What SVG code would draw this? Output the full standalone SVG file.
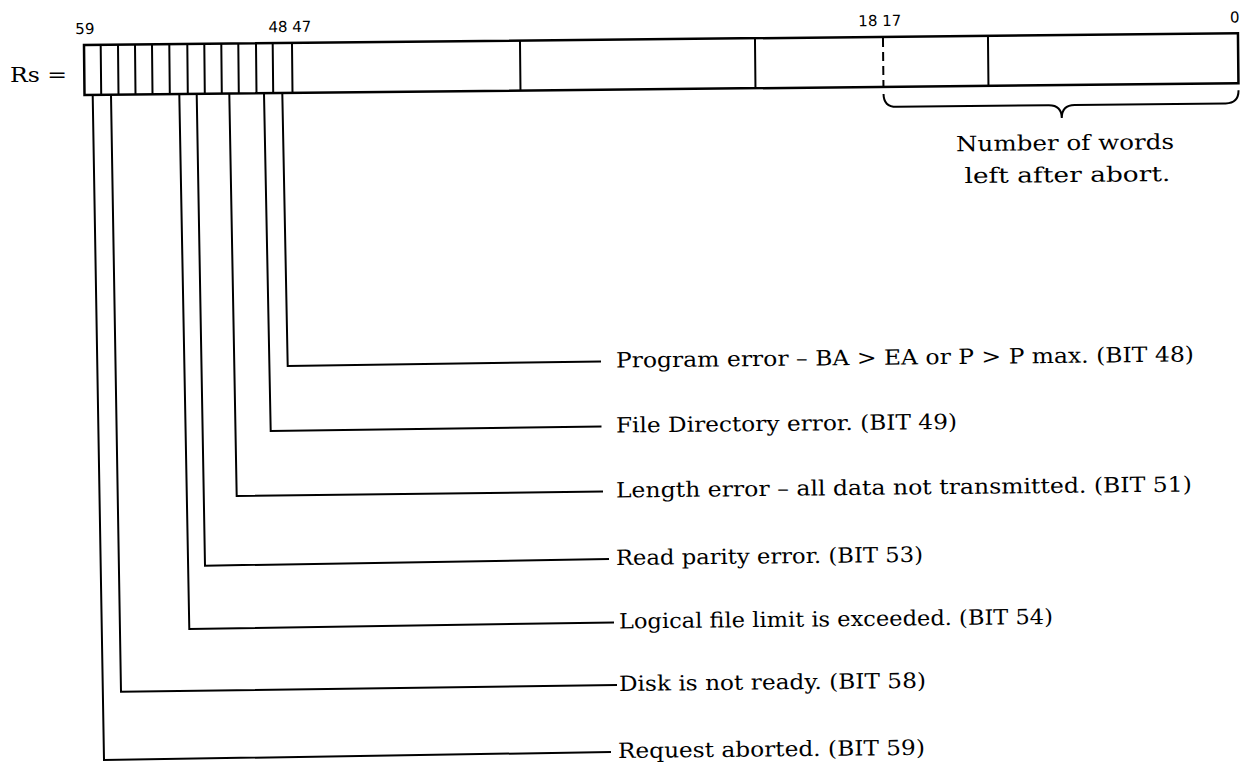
<svg xmlns="http://www.w3.org/2000/svg" width="1241" height="765" viewBox="0 0 1241 765">
<style>
.ln{fill:none;stroke:#000;stroke-width:2;stroke-linejoin:miter}
.box{fill:none;stroke:#000;stroke-width:2.5}
.dash{fill:none;stroke:#000;stroke-width:2;stroke-dasharray:9 5}
.num{font-family:"DejaVu Sans",sans-serif;font-size:15px;fill:#000;text-anchor:middle}
.lbl{font-family:"DejaVu Serif","Liberation Serif",serif;font-size:21px;fill:#000}
.mid{text-anchor:middle}
</style>
<rect width="1241" height="765" fill="#fff"/>
<g id="register" transform="rotate(-0.58 84 45)">
  <rect class="box" x="84" y="45" width="1154" height="50"/>
  <path class="ln" d="M100.7,45V95M118,45V95M135,45V95M152,45V95M169.3,45V95M187.3,45V95M204.3,45V95M221.3,45V95M238.3,45V95M256,45V95M272.7,45V95M292,45V95M520,45V95M755,45V95M988,45V95"/>
  <path class="dash" d="M883,46V95"/>
  <text class="num" x="85" y="34">59</text>
  <text class="num" x="290" y="34">48 47</text>
  <text class="num" x="880" y="34">18 17</text>
  <text class="num" x="1235" y="34">0</text>
</g>
<g id="rs-label">
  <text class="lbl" x="10" y="82" font-size="24" textLength="57" lengthAdjust="spacingAndGlyphs">Rs =</text>
</g>
<g id="word-count" transform="rotate(-0.58 84 45)">
  <path class="ln" d="M883,102Q883,115 896,115L1048,115Q1061,115 1061,128Q1061,115 1074,115L1225,115Q1238,115 1238,102"/>
  <text class="lbl mid" x="1064" y="160" textLength="218" lengthAdjust="spacingAndGlyphs">Number of words</text>
  <text class="lbl mid" x="1066" y="192" textLength="206" lengthAdjust="spacingAndGlyphs">left after abort.</text>
</g>
<g id="connectors">
  <polyline class="ln" points="282.3,93 287.7,366 601,361.5"/>
  <polyline class="ln" points="264,93.2 270.7,431 601.5,426.5"/>
  <polyline class="ln" points="229.3,93.5 236.7,496 603,491.5"/>
  <polyline class="ln" points="196.7,93.9 205,565.7 609,559"/>
  <polyline class="ln" points="179.3,94 189.3,629 614,622.5"/>
  <polyline class="ln" points="111,94.7 121,691.7 617,685"/>
  <polyline class="ln" points="92.7,94.9 104,760 611,752"/>
</g>
<g id="bit48"><text class="lbl" x="616" y="367.5" transform="rotate(-0.6 616 367.5)" textLength="578" lengthAdjust="spacingAndGlyphs">Program error – BA &gt; EA or P &gt; P max. (BIT 48)</text></g>
<g id="bit49"><text class="lbl" x="616" y="432.5" transform="rotate(-0.6 616 432.5)" textLength="341" lengthAdjust="spacingAndGlyphs">File Directory error. (BIT 49)</text></g>
<g id="bit51"><text class="lbl" x="616" y="497.5" transform="rotate(-0.6 616 497.5)" textLength="576" lengthAdjust="spacingAndGlyphs">Length error – all data not transmitted. (BIT 51)</text></g>
<g id="bit53"><text class="lbl" x="616" y="565" transform="rotate(-0.6 616 565)" textLength="307" lengthAdjust="spacingAndGlyphs">Read parity error. (BIT 53)</text></g>
<g id="bit54"><text class="lbl" x="619" y="628.5" transform="rotate(-0.6 619 628.5)" textLength="434" lengthAdjust="spacingAndGlyphs">Logical file limit is exceeded. (BIT 54)</text></g>
<g id="bit58"><text class="lbl" x="619" y="691" transform="rotate(-0.6 619 691)" textLength="307" lengthAdjust="spacingAndGlyphs">Disk is not ready. (BIT 58)</text></g>
<g id="bit59"><text class="lbl" x="618" y="758" transform="rotate(-0.6 618 758)" textLength="307" lengthAdjust="spacingAndGlyphs">Request aborted. (BIT 59)</text></g>
</svg>
